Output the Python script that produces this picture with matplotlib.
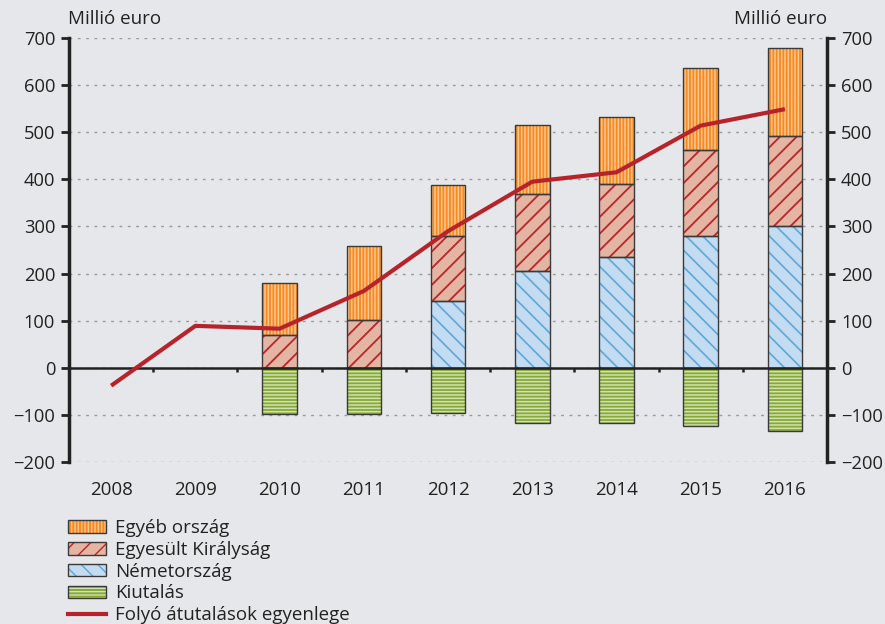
import numpy as np
import matplotlib
matplotlib.use("Agg")
import matplotlib.pyplot as plt
from matplotlib.patches import Patch
from matplotlib.lines import Line2D
from matplotlib.legend_handler import HandlerTuple

years = ["2008", "2009", "2010", "2011", "2012", "2013", "2014", "2015", "2016"]
nemet = [0, 0, 0, 0, 141, 206, 236, 280, 301]
uk = [0, 0, 69, 102, 139, 163, 154, 182, 192]
egyeb = [0, 0, 111, 156, 108, 146, 142, 175, 185]
kiutalas = [0, 0, -99, -98, -95, -118, -117, -124, -134]
egyenleg = [-38, 89, 83, 163, 290, 395, 415, 514, 549]

bg = "#e6e7ea"
plt.rcParams['font.family'] = ['Open Sans', 'DejaVu Sans']
plt.rcParams['font.size'] = 13.5

fig = plt.figure(figsize=(8.85, 6.24), dpi=100, facecolor=bg)
ax = fig.add_axes([0.078, 0.2596, 0.8565, 0.6795], facecolor=bg)

x = np.arange(len(years))
has = np.array(kiutalas) != 0   # 2008-2009: only the line
w = 0.41
edge = "#3a3a3a"

# (face, hatch colour, hatch, hatch width)
styles = {
    "nemet": ("#c4dcf1", "#5fa6d9", "\\\\", 1.2),
    "uk": ("#e4b5a3", "#b8262b", "//", 1.3),
    "egyeb": ("#f68a1e", "#fcc690", "|||||", 1.1),
    "kiut": ("#86a83a", "#d2e2ac", "-----", 1.1),
}

def layer(bottom, height, key):
    face, hcol, hatch, hlw = styles[key]
    xs = x[has]
    b = np.array(bottom)[has]
    h = np.array(height)[has]
    ax.bar(xs, h, w, bottom=b, color=face, edgecolor="none", zorder=2)
    with plt.rc_context({'hatch.linewidth': hlw}):
        ax.bar(xs, h, w, bottom=b, color="none", edgecolor=hcol, hatch=hatch,
               linewidth=0, zorder=3)
    ax.bar(xs, h, w, bottom=b, color="none", edgecolor=edge, linewidth=1.0, zorder=4)

base_uk = np.array(nemet)
base_eg = base_uk + np.array(uk)
layer(np.zeros(9), nemet, "nemet")
layer(base_uk, uk, "uk")
layer(base_eg, egyeb, "egyeb")
layer(np.zeros(9), kiutalas, "kiut")

ax.plot(x, egyenleg, color="#b7232a", lw=3, zorder=6, solid_capstyle="butt")

ax.axhline(0, color="#222222", lw=1.8, zorder=5)
ax.vlines(x[:-1] + 0.5, 0, -8, color="#222222", lw=1.8, zorder=5)

ax.set_xlim(-0.5, len(years) - 0.5)
ax.set_ylim(-200, 700)
ax.set_yticks(np.arange(-200, 701, 100))
ax.set_yticklabels([str(v).replace("-", "\u2212") for v in range(-200, 701, 100)])
ax.yaxis.grid(True, color="#9a9a9a", linestyle=(0, (2, 4)), lw=1)
ax.set_axisbelow(True)
ax.set_xticks(x)
ax.set_xticklabels(years)
ax.tick_params(axis="x", length=0, pad=14, colors="#222222")
ax.tick_params(axis="y", direction="out", length=6, width=2, color="#222222",
               labelcolor="#222222", left=True, right=True, labelleft=True, labelright=True,
               pad=4, labelsize=13.2)
for s in ["top", "bottom"]:
    ax.spines[s].set_visible(False)
for s in ["left", "right"]:
    ax.spines[s].set_linewidth(2.5)
    ax.spines[s].set_color("#222222")

fig.text(0.077, 0.955, "Millió euro", ha="left", va="bottom", color="#222222")
fig.text(0.935, 0.955, "Millió euro", ha="right", va="bottom", color="#222222")

def legend_patch(key):
    face, hcol, hatch, hlw = styles[key]
    return (Patch(facecolor=face, edgecolor="none"),
            Patch(facecolor="none", edgecolor=hcol, hatch=hatch, lw=0),
            Patch(facecolor="none", edgecolor=edge, lw=1.0))

handles = [legend_patch("egyeb"), legend_patch("uk"), legend_patch("nemet"),
           legend_patch("kiut"), Line2D([0], [0], color="#b7232a", lw=3)]
labels = ["Egyéb ország", "Egyesült Királyság", "Németország", "Kiutalás",
          "Folyó átutalások egyenlege"]
leg = fig.legend(handles, labels, loc="upper left", bbox_to_anchor=(0.077, 0.168),
                 frameon=False, handlelength=2.0, handleheight=0.65, labelspacing=0.2,
                 handletextpad=0.5, borderaxespad=0, borderpad=0,
                 handler_map={tuple: HandlerTuple(ndivide=1, pad=0)})
for t in leg.get_texts():
    t.set_color("#222222")

fig.savefig("out.png", dpi=100, facecolor=bg)
